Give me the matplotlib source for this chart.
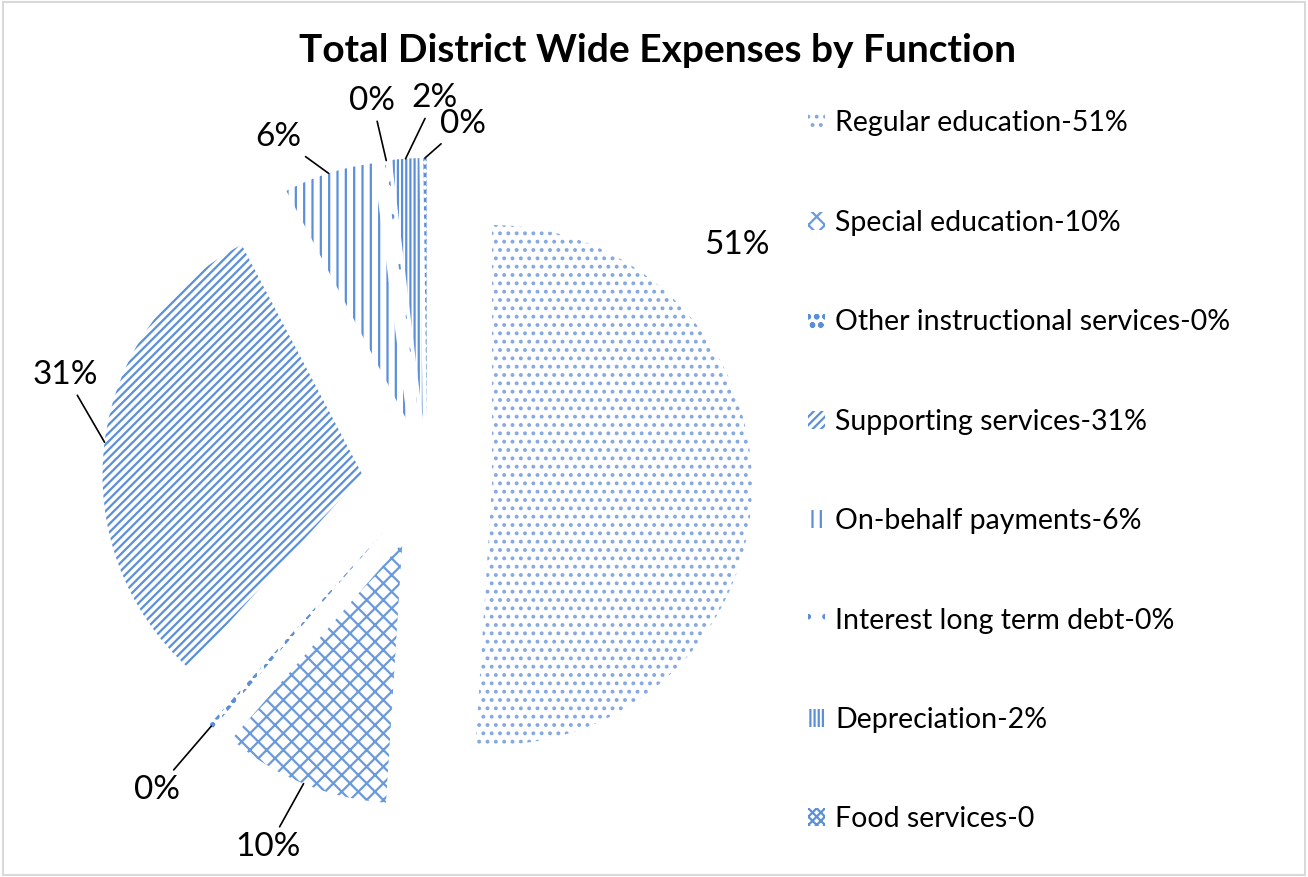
import matplotlib.pyplot as plt
from matplotlib.patches import Patch, Rectangle
import numpy as np

title = 'Total District Wide Expenses by Function'
categories = ['Regular education-51%', 'Special education-10%',
              'Other instructional services-0%', 'Supporting services-31%',
              'On-behalf payments-6%', 'Interest long term debt-0%',
              'Depreciation-2%', 'Food services-0']
values = [51.0, 10.4, 0.3, 30.6, 5.6, 0.2, 1.7, 0.2]
pct_labels = ['51%', '10%', '0%', '31%', '6%', '0%', '2%', '0%']

hatches = ['..', 'xx', 'oo', '////', '||', '.', '||||', 'xxxx']
hatch_colors = ['#86A9E2', '#6B9ADC', '#5B8FD9', '#5B8FD9',
                '#5B8FD9', '#5B8FD9', '#5B8FD9', '#5B8FD9']

# label layout (data units, pie radius = 1)
label_xy = [(1.19, 0.915), (-0.61, -1.40), (-1.04, -1.18), (-1.39, 0.415),
            (-0.57, 1.33), (-0.21, 1.47), (0.03, 1.48), (0.14, 1.38)]
leader = [False, True, True, True, True, True, True, True]

plt.rcParams['font.family'] = ['Lato', 'DejaVu Sans']
plt.rcParams['hatch.linewidth'] = 1.6

fig = plt.figure(figsize=(13.08, 8.77), dpi=100)
ax = fig.add_axes([0, 0, 1, 1])

wedges, _ = ax.pie(values, startangle=90, counterclock=False,
                   explode=[0.25] * len(values), colors=['white'] * len(values),
                   wedgeprops=dict(linewidth=0))
for w, h, c in zip(wedges, hatches, hatch_colors):
    w.set_hatch(h)
    w.set_edgecolor(c)
    w.set_linewidth(0)

# 260 px per unit, centre of pie at (427, 483) px
ax.set_aspect('auto')
ax.set_xlim(-427 / 260, (1308 - 427) / 260)
ax.set_ylim(-(877 - 483) / 260, 483 / 260)
ax.axis('off')

for w, txt, (lx, ly), ld in zip(wedges, pct_labels, label_xy, leader):
    ang = np.deg2rad((w.theta1 + w.theta2) / 2)
    cx, cy = w.center
    anchor = (cx + w.r * np.cos(ang), cy + w.r * np.sin(ang))
    if ld:
        ax.annotate(txt, xy=anchor, xytext=(lx, ly), fontsize=24,
                    ha='center', va='center',
                    arrowprops=dict(arrowstyle='-', color='black', lw=1.2,
                                    shrinkA=2, shrinkB=0))
    else:
        ax.text(lx, ly, txt, fontsize=24, ha='center', va='center')

fig.text(0.503, 1 - 51 / 877, title, ha='center', va='center',
         fontsize=28, fontweight='bold')

handles = [Patch(facecolor='white', edgecolor=c, hatch=h, linewidth=0)
           for h, c in zip(hatches, hatch_colors)]
fig.legend(handles, categories, loc='upper left',
           bbox_to_anchor=(794 / 1308, 1 - 96 / 877), frameon=False,
           fontsize=20.5, labelspacing=2.58, handlelength=0.6,
           handleheight=0.6, handletextpad=0.35, borderpad=0)

fig.patches.append(Rectangle((0.002, 0.002), 0.996, 0.996,
                             transform=fig.transFigure, fill=False,
                             edgecolor='#D9D9D9', linewidth=1.5))

fig.savefig('out.png', dpi=100)
